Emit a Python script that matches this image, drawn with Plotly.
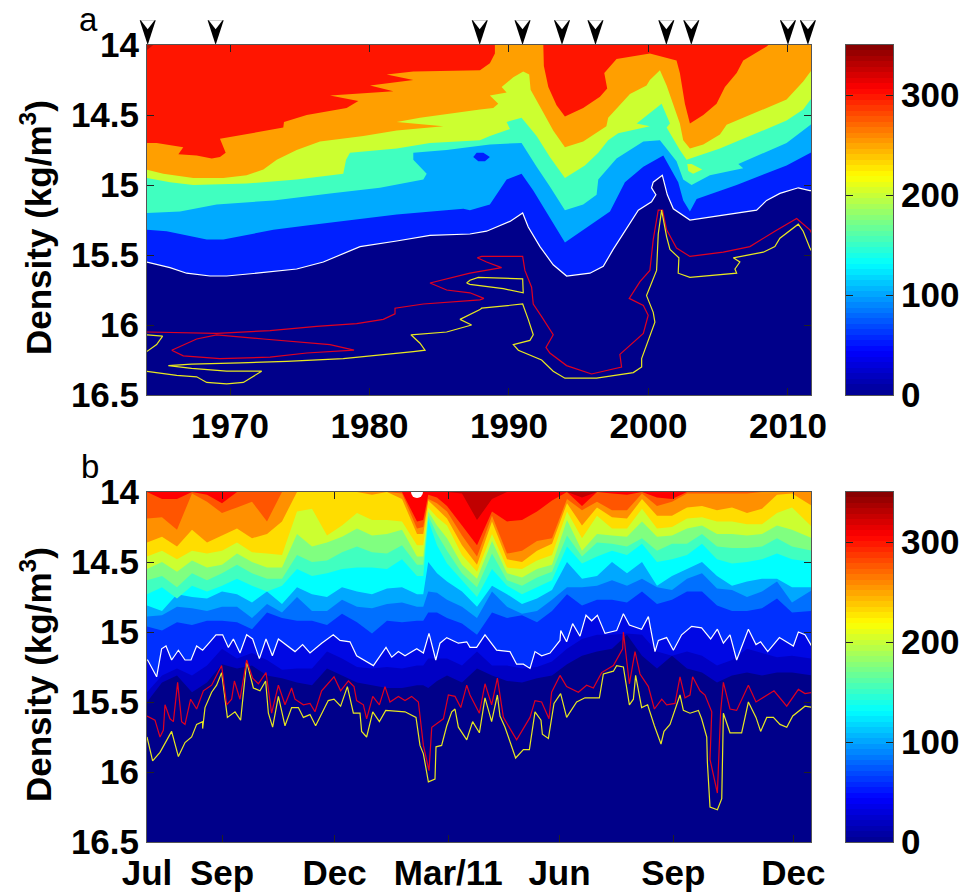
import numpy as np
import plotly.graph_objects as go

# ---------- Panel a: long-term record (year, density) ----------
A_RED_X = [1964.0,1964.74,1966.65,1966.30,1967.61,1968.69,1969.28,1969.69,1969.28,1973.82,1973.87,1975.50,1978.36,1979.20,1977.17,1981.71,1980.04,1983.14,1981.23,1983.14,1987.92,1988.63,1988.99,1988.99,1992.46,1992.50,1992.82,1993.41,1994.01,1995.32,1996.52,1997.04,1996.83,1997.71,2000.10,2002.01,2002.25,2002.61,2002.97,2003.93,2004.88,2005.48,2006.32,2006.79,2008.47,2008.59,2012]
A_RED_Y = [14.70,14.70,14.73,14.78,14.79,14.81,14.80,14.77,14.67,14.59,14.55,14.50,14.45,14.40,14.36,14.33,14.29,14.25,14.21,14.19,14.18,14.13,14.06,14.00,14.00,14.15,14.30,14.43,14.51,14.45,14.37,14.31,14.20,14.10,14.06,14.11,14.20,14.42,14.56,14.50,14.42,14.30,14.20,14.11,14.01,14.00,14.00]
A_ORANGE_X = [1964.0,1965.22,1967.37,1969.52,1971.19,1972.39,1973.35,1974.78,1976.45,1979.56,1981.95,1985.29,1981.95,1983.62,1987.92,1988.87,1989.23,1988.63,1989.83,1989.47,1990.31,1991.02,1991.45,1991.55,1992.34,1993.17,1994.01,1995.32,1996.98,1997.11,1998.67,1999.86,2000.10,2000.82,2001.30,2002.25,2002.49,2002.97,2003.93,2005.12,2005.60,2007.51,2009.90,2011.09,2011.62,2012]
A_ORANGE_Y = [14.89,14.92,14.95,14.95,14.93,14.89,14.82,14.75,14.69,14.65,14.61,14.58,14.55,14.52,14.46,14.45,14.42,14.36,14.34,14.30,14.23,14.19,14.21,14.32,14.46,14.61,14.73,14.69,14.58,14.52,14.35,14.29,14.25,14.18,14.29,14.56,14.68,14.74,14.71,14.64,14.57,14.49,14.39,14.26,14.19,14.15]
A_YG_X = [1964.0,1965.70,1967.37,1971.19,1974.78,1978.12,1978.32,1978.60,1981.95,1984.34,1987.92,1988.63,1990.07,1989.83,1990.90,1991.98,1992.93,1994.01,1995.44,1996.40,1997.11,1997.83,2000.10,1999.15,2000.94,2001.54,2001.30,2002.25,2002.73,2005.12,2007.51,2009.90,2011.09,2011.62,2012]
A_YG_Y = [14.95,14.98,15.00,14.99,14.96,14.92,14.82,14.77,14.74,14.70,14.68,14.65,14.60,14.55,14.52,14.65,14.80,14.95,14.86,14.77,14.68,14.63,14.58,14.56,14.42,14.56,14.59,14.75,14.82,14.74,14.64,14.54,14.46,14.39,14.35]
A_GREEN_X = [1964.0,1966.42,1969.04,1973.11,1977.17,1980.75,1983.86,1984.10,1983.14,1983.14,1985.53,1987.92,1988.63,1990.90,1991.98,1992.93,1994.01,1995.32,1996.28,1996.40,1997.71,1999.63,2000.82,2002.01,2002.49,2003.09,2004.40,2006.79,2006.44,2009.90,2011.62,2012]
A_GREEN_Y = [15.20,15.19,15.14,15.11,15.06,15.02,14.96,14.92,14.82,14.77,14.75,14.72,14.71,14.70,14.87,15.01,15.18,15.14,15.07,14.96,14.81,14.69,14.68,14.83,14.96,15.00,14.93,14.88,14.85,14.70,14.57,14.53]
A_LBLUE_X = [1964.0,1965.46,1968.33,1969.52,1973.11,1975.50,1981.95,1986.73,1987.2,1988.63,1989.83,1990.90,1991.74,1994.01,1997.24,1998.31,1999.63,2001.06,2002.13,2002.49,2002.97,2003.45,2006.32,2009.90,2011.62,2012]
A_LBLUE_Y = [15.32,15.33,15.39,15.39,15.32,15.29,15.21,15.17,15.18,15.14,14.96,14.92,15.04,15.41,15.19,14.98,14.87,14.79,14.98,15.11,15.19,15.10,15.00,14.86,14.77,14.75]
A_WHITE_X = [1964.0,1965.70,1966.89,1968.57,1969.76,1971.91,1974.78,1976.69,1979.32,1981.95,1984.34,1987.2,1988.39,1990.07,1990.98,1991.38,1992.22,1993.17,1994.13,1995.80,1996.76,1997.47,1999.27,2000.22,2000.53,2000.22,2000.34,2000.99,2001.35,2001.78,2002.97,2007.75,2008.47,2009.42,2010.74,2011.57,2012]
A_WHITE_Y = [15.55,15.59,15.63,15.65,15.65,15.63,15.60,15.55,15.44,15.40,15.36,15.35,15.33,15.26,15.20,15.30,15.44,15.57,15.65,15.63,15.58,15.46,15.18,15.12,15.07,15.02,14.98,14.93,15.07,15.17,15.25,15.18,15.11,15.06,15.02,15.04,15.04]
A_REDLINE_X = [1964.0,1969.04,1972.87,1976.21,1979.08,1980.99,1981.83,1981.83,1983.86,1987.92,1988.2,1987.2,1985.53,1984.34,1987.2,1989.47,1988.39,1987.73,1988.04,1990.98,1991.14,1991.62,1991.74,1992.34,1993.17,1992.65,1992.93,1994.13,1995.92,1998.07,1997.95,1999.63,1999.98,1999.63,1998.62,1999.39,2000.10,2000.34,2000.70,2001.01,2001.30,2002.01,2002.97,2005.36,2007.27,2009.06,2010.62,2011.57,2012]
A_REDLINE_Y = [16.05,16.06,16.04,16.01,15.99,15.96,15.92,15.88,15.85,15.82,15.81,15.77,15.75,15.70,15.63,15.59,15.55,15.52,15.51,15.51,15.61,15.73,15.85,15.94,16.07,16.16,16.20,16.29,16.35,16.30,16.21,16.06,15.93,15.86,15.81,15.69,15.61,15.39,15.18,15.18,15.32,15.45,15.51,15.48,15.44,15.33,15.24,15.32,15.40]
A_REDLOOP_X = [1965.82,1967.61,1969.04,1972.39,1977.17,1978.89,1975.50,1972.87,1969.28,1966.65,1965.82]
A_REDLOOP_Y = [16.18,16.10,16.07,16.10,16.14,16.18,16.20,16.23,16.24,16.22,16.18]
A_YEL1_X = [1964.03,1965.17,1964.74,1964.03]
A_YEL1_Y = [16.07,16.08,16.14,16.19]
A_YEL2_X = [1964.0,1966.18,1967.61,1968.33,1969.76,1970.96,1972.27,1969.76,1967.25,1965.58,1967.25,1970.72,1974.06,1978.12,1983.14,1983.98,1983.62,1982.97,1985.53,1987.32,1986.49,1987.92,1988.04,1990.98,1991.38,1991.74,1991.50,1990.31,1990.67,1992.34,1993.17,1994.01,1996.28,1998.91,1999.51,1999.51,2000.46,2000.34,1999.86,2000.58,2000.70,2000.94,2001.30,2001.54,2002.18,2002.13,2002.97,2006.32,2006.20,2006.55,2006.08,2008.23,2009.06,2009.42,2010.74,2011.09,2011.57,2012]
A_YEL2_Y = [16.33,16.36,16.37,16.41,16.42,16.41,16.33,16.33,16.31,16.29,16.28,16.27,16.26,16.24,16.19,16.18,16.13,16.07,16.05,16.00,15.96,15.89,15.88,15.85,15.96,16.07,16.11,16.14,16.18,16.25,16.33,16.38,16.38,16.34,16.30,16.24,15.98,15.91,15.79,15.61,15.35,15.18,15.37,15.46,15.52,15.63,15.66,15.63,15.60,15.55,15.52,15.48,15.44,15.38,15.28,15.33,15.45,15.53]
A_YEL3_X = [1986.96,1987.2,1987.8,1990.98,1991.02,1989.59,1987.2,1986.96]
A_YEL3_Y = [15.70,15.68,15.66,15.67,15.77,15.74,15.71,15.70]
A_BLUE_ISLAND_X = [1987.44,1987.68,1988.16,1988.63,1988.28,1987.80,1987.44]
A_BLUE_ISLAND_Y = [14.80,14.77,14.77,14.80,14.83,14.83,14.80]
A_YG_ISLAND_X = [2002.78,2003.09,2003.85,2003.2,2002.85,2002.78]
A_YG_ISLAND_Y = [14.85,14.85,14.89,14.92,14.90,14.85]
A_CORNER_X = [1964.0,1964.5,1964.0,1964.0]
A_CORNER_Y = [14.0,14.0,14.04,14.0]
ARROW_YEARS = [1964.1,1968.97,1987.9,1990.97,1993.8,1996.2,2001.28,2003.07,2010.0,2011.43]

# ---------- Panel b: 2010-2011 record (days since 1 Jul, density) ----------
DAYS = [0,12,24,36,48,60,72,84,96,108,120,132,144,156,168,180,192,204,216,221,225,232,240,252,264,276,288,300,312,324,336,348,360,372,384,396,408,420,432,444,456,468,480,492,504,516,532]
B_L325 = [14.00]*23+[14.01,14.20,14.05,14.00,14.00,14.00,14.00,14.00,14.04]+[14.00]*15
B_L300 = [14.00,14.05,14.05,14.00,14.02,14.08,14.00,14.00,14.00,14.00,14.00,14.00,14.00,14.00,14.00,14.00,14.00,14.00,14.21,14.20,14.02,14.04,14.10,14.24,14.38,14.14,14.21,14.20,14.14,14.06,14.00,14.10,14.00,14.01,14.02,14.00,14.04,14.05,14.00,14.00,14.00,14.00,14.00,14.00,14.00,14.00,14.00]
B_L275 = [14.19,14.18,14.27,14.01,14.07,14.15,14.11,14.07,14.21,14.00,14.00,14.00,14.00,14.00,14.00,14.00,14.00,14.01,14.26,14.25,14.05,14.08,14.14,14.31,14.46,14.17,14.44,14.42,14.35,14.33,14.05,14.13,14.07,14.13,14.13,14.01,14.10,14.07,14.01,14.01,14.01,14.01,14.01,14.00,14.00,14.00,14.00]
B_L250 = [14.36,14.32,14.39,14.27,14.36,14.31,14.26,14.33,14.30,14.21,14.00,14.00,14.00,14.00,14.00,14.02,14.00,14.05,14.30,14.30,14.06,14.12,14.19,14.38,14.52,14.21,14.48,14.50,14.42,14.37,14.08,14.24,14.11,14.18,14.19,14.05,14.17,14.17,14.11,14.10,14.13,14.11,14.15,14.12,14.02,14.01,14.10]
B_L225 = [14.46,14.42,14.48,14.42,14.44,14.42,14.36,14.43,14.44,14.45,14.14,14.12,14.31,14.24,14.15,14.20,14.20,14.21,14.38,14.38,14.11,14.18,14.24,14.45,14.57,14.30,14.54,14.55,14.49,14.45,14.14,14.33,14.17,14.26,14.26,14.12,14.26,14.25,14.19,14.18,14.21,14.21,14.23,14.23,14.15,14.11,14.25]
B_L200 = [14.55,14.50,14.57,14.49,14.54,14.52,14.44,14.50,14.54,14.54,14.30,14.39,14.36,14.32,14.26,14.31,14.30,14.27,14.46,14.46,14.14,14.24,14.33,14.52,14.62,14.35,14.58,14.61,14.55,14.52,14.20,14.42,14.30,14.31,14.32,14.21,14.32,14.31,14.26,14.24,14.30,14.30,14.31,14.30,14.24,14.27,14.33]
B_L175 = [14.63,14.60,14.68,14.58,14.63,14.58,14.52,14.58,14.62,14.62,14.45,14.50,14.49,14.43,14.39,14.43,14.44,14.38,14.52,14.52,14.17,14.30,14.42,14.58,14.68,14.44,14.63,14.67,14.61,14.57,14.31,14.46,14.36,14.37,14.39,14.33,14.42,14.37,14.37,14.30,14.39,14.40,14.40,14.39,14.33,14.39,14.42]
B_L150 = [14.73,14.68,14.76,14.67,14.71,14.67,14.62,14.67,14.71,14.67,14.55,14.60,14.58,14.55,14.54,14.54,14.55,14.48,14.60,14.60,14.20,14.38,14.51,14.63,14.75,14.55,14.67,14.73,14.68,14.63,14.39,14.51,14.46,14.42,14.45,14.37,14.50,14.48,14.45,14.37,14.48,14.51,14.50,14.48,14.44,14.48,14.50]
B_L125 = [14.81,14.85,14.73,14.75,14.76,14.71,14.73,14.79,14.71,14.80,14.68,14.73,14.75,14.68,14.71,14.73,14.69,14.68,14.73,14.73,14.50,14.58,14.64,14.71,14.82,14.67,14.73,14.80,14.76,14.70,14.50,14.62,14.60,14.50,14.58,14.50,14.67,14.60,14.55,14.50,14.60,14.67,14.64,14.62,14.62,14.68,14.68]
B_L100 = [14.89,14.88,14.82,14.83,14.85,14.82,14.82,14.90,14.80,14.86,14.75,14.85,14.85,14.77,14.82,14.83,14.80,14.79,14.82,14.82,14.71,14.72,14.77,14.82,14.90,14.71,14.82,14.87,14.85,14.77,14.68,14.68,14.67,14.63,14.67,14.62,14.68,14.70,14.62,14.58,14.69,14.70,14.75,14.71,14.64,14.79,14.70]
B_L75 = [14.96,14.99,14.93,14.95,14.92,14.92,14.93,14.98,14.86,14.90,14.92,14.92,14.95,14.87,14.93,15.01,14.92,14.93,14.92,14.92,14.86,14.86,14.90,14.94,15.02,14.86,14.90,14.88,14.93,14.85,14.73,14.81,14.77,14.77,14.79,14.71,14.80,14.77,14.71,14.71,14.81,14.85,14.85,14.83,14.76,14.86,14.85]
B_LA = [15.43,15.31,15.26,15.31,15.24,15.12,15.19,15.15,15.20,15.27,15.26,15.26,15.14,15.19,15.25,15.26,15.25,15.26,15.24,15.24,15.19,15.19,15.19,15.24,15.14,15.24,15.24,15.26,15.25,15.21,15.12,15.05,15.02,15.02,15.01,15.02,15.14,15.17,15.14,15.17,15.24,15.20,15.12,15.15,15.18,15.17,15.19]
B_LB = [15.50,15.36,15.31,15.43,15.36,15.23,15.26,15.24,15.31,15.33,15.36,15.38,15.26,15.31,15.36,15.38,15.40,15.40,15.38,15.38,15.40,15.35,15.31,15.36,15.26,15.31,15.35,15.36,15.33,15.31,15.23,15.17,15.14,15.12,15.02,15.17,15.26,15.17,15.26,15.29,15.36,15.31,15.29,15.31,15.29,15.29,15.31]
B_WHITE_X = [0,0.5,7.7,11.7,15.2,19.7,25.1,30.4,35.2,39.7,44.5,50.4,55.2,60.5,65.1,69.1,74.4,79.7,84.5,89.9,95.2,100.3,105.1,118.4,124.5,130.4,139.7,149,154.4,162.4,167.7,181.1,191.2,195.8,201.1,206.4,215.8,221.1,225.6,231,234.4,239.8,249.1,255.8,258.4,263.7,270.4,279.7,290.4,295.7,301.1,306.4,310.4,315.7,322.4,330.4,331,335.7,340.5,346.4,351.2,355.7,360.3,366.4,375.7,381.1,385.9,395.7,401.1,406.4,409.1,415.7,421.1,427.7,435.7,443.7,450.9,456.3,461.1,466.4,471.7,481.1,487.2,490.9,496.6,505.9,517.1,521.1,526.4,533]
B_WHITE_Y = [15.20,15.20,15.32,15.12,15.10,15.20,15.13,15.20,15.20,15.10,15.13,15.07,15.02,15.02,15.11,15.05,15.15,15.02,15.05,15.19,15.05,15.17,15.05,15.14,15.09,15.15,15.08,15.02,15.06,15.07,15.17,15.24,15.11,15.18,15.14,15.17,15.12,15.15,15.01,15.20,15.08,15.04,15.08,15.07,15.11,15.11,15.02,15.13,15.14,15.23,15.23,15.26,15.14,15.17,15.15,15.06,14.99,15.07,14.94,15.03,14.88,14.92,14.88,15.01,14.99,14.87,14.95,14.98,14.89,15.14,15.06,15.04,15.13,15.02,14.96,14.97,15.05,14.98,15.08,15.02,15.20,14.98,15.09,15.07,15.14,15.04,15.10,15.00,15.02,15.12]
B_RED_X = [0,6.4,10.4,13.1,14.4,18.4,21.1,24.5,27.7,30.4,34.9,39.7,45.1,51.7,59.7,63.7,67.7,69.9,74.4,79.7,84.5,89.1,95.2,99.7,105.1,110.4,115.7,118.4,125.1,130.4,134.4,139.7,149.6,154.9,161.1,165.6,167.7,173.1,175.7,180.6,185.9,190.4,194.4,201.1,206.4,211.7,217.1,221.1,225.6,227.8,237.1,241.1,246.4,251,255.8,258.4,265.9,270.4,275.7,280.3,285.1,295.7,306.4,310.4,315.7,321.6,323.7,330.4,335.7,345.1,351.7,357.1,363.7,373.1,380.5,381.1,385.9,390.4,394.4,401.1,405.9,411.8,415.7,422.4,426.4,430.4,434.4,436.5,442.4,446.4,451.8,450.4,456.3,458.9,461.1,466.4,471.7,481.1,487.2,501.6,511.8,521.1,526.4,533]
B_RED_Y = [15.60,15.63,15.75,15.70,15.52,15.62,15.64,15.36,15.64,15.66,15.48,15.55,15.42,15.38,15.24,15.52,15.48,15.35,15.48,15.20,15.33,15.37,15.29,15.58,15.38,15.52,15.40,15.48,15.52,15.51,15.57,15.42,15.32,15.42,15.35,15.39,15.49,15.52,15.62,15.46,15.52,15.39,15.50,15.46,15.49,15.46,15.50,15.81,15.99,15.68,15.62,15.45,15.46,15.54,15.38,15.45,15.58,15.37,15.52,15.33,15.61,15.77,15.61,15.49,15.50,15.62,15.43,15.31,15.39,15.43,15.38,15.40,15.29,15.24,15.12,15.00,15.37,15.14,15.30,15.39,15.55,15.48,15.52,15.51,15.32,15.47,15.45,15.32,15.42,15.45,15.57,15.91,16.15,15.57,15.36,15.55,15.56,15.38,15.50,15.42,15.53,15.41,15.44,15.43]
B_YEL_X = [0,4.5,10.4,19.7,25.1,30.4,35.7,39.7,44.5,44.5,46.4,51.7,55.7,59.7,64.3,70.4,74.9,79.7,85.1,90.4,94.9,97.1,100.5,105.1,110.4,115.7,121.1,125.1,130.4,134.9,145,149.6,154.9,160.3,165.1,170.4,171.7,175.7,180.6,185.9,191,206.4,215.2,218.4,221.1,225.1,230.4,231.2,235.7,239.8,243.8,246.4,249.1,255.8,260.5,265.9,270.4,275.7,280.3,282.4,286.4,294.9,301.1,305.9,310.4,315.2,316.3,321.1,325.6,330.9,335.7,343.7,350.4,361.9,365.1,373.1,375.7,381.1,385.9,389.1,390.9,395.7,400.5,405.9,411.2,413.6,418.4,426.4,429.1,434.4,441.1,443.7,447.8,448.3,450.4,456.3,459.8,461.1,466.4,475.7,481.1,487.2,490.9,495.8,501.1,506.4,511.8,516.6,526.4,533]
B_YEL_Y = [15.75,15.92,15.86,15.71,15.89,15.79,15.75,15.66,15.64,15.69,15.54,15.43,15.38,15.29,15.61,15.57,15.63,15.21,15.40,15.42,15.35,15.58,15.68,15.46,15.67,15.54,15.54,15.61,15.59,15.67,15.49,15.48,15.53,15.39,15.58,15.58,15.71,15.75,15.57,15.64,15.56,15.57,15.61,15.81,15.87,16.07,16.05,15.82,15.81,15.67,15.57,15.55,15.68,15.77,15.64,15.72,15.47,15.64,15.45,15.60,15.68,15.90,15.84,15.84,15.57,15.63,15.73,15.76,15.51,15.44,15.61,15.50,15.47,15.47,15.30,15.28,15.24,15.25,15.52,15.48,15.31,15.54,15.52,15.67,15.80,15.71,15.66,15.45,15.56,15.58,15.56,15.62,15.75,15.93,16.25,16.27,16.19,15.58,15.72,15.72,15.50,15.61,15.71,15.61,15.61,15.66,15.68,15.60,15.53,15.54]
MISSING_DAY = [216]
MISSING_DENS = [14.0]

# ---------- Axis ticks ----------
DENS_TICKS = [14,14.5,15,15.5,16,16.5]
DENS_LABELS = ["14","14.5","15","15.5","16","16.5"]
YEAR_TICKS = [1970,1980,1990,2000,2010]
DAY_TICKS = [0,60,150,241,330,421,517]
DAY_LABELS = ["Jul","Sep","Dec","Mar/11","Jun","Sep","Dec"]
CB_TICKS = [0,100,200,300]

JET = [[0,"#00008f"],[0.125,"#0000ff"],[0.375,"#00ffff"],[0.625,"#ffff00"],[0.875,"#ff0000"],[1,"#800000"]]
FONT = "Liberation Sans"
W, H = 966, 895
def xd(a, b): return [a/W, b/W]
def yd(top, bot): return [1-bot/H, 1-top/H]

fig = go.Figure()

def band(x, y, color, xa, ya, fill="tozeroy"):
    fig.add_trace(go.Scatter(x=x, y=y, mode="lines", fill=fill, fillcolor=color,
                             line=dict(width=0, color=color, simplify=False),
                             hoverinfo="skip", showlegend=False, xaxis=xa, yaxis=ya))
def line(x, y, color, xa, ya, w=1.2):
    fig.add_trace(go.Scatter(x=x, y=y, mode="lines", line=dict(width=w, color=color, simplify=False),
                             hoverinfo="skip", showlegend=False, xaxis=xa, yaxis=ya))

# Panel a bands
band(A_WHITE_X, A_WHITE_Y, "#0020ff", "x", "y")
band(A_LBLUE_X, A_LBLUE_Y, "#00aaff", "x", "y")
band(A_GREEN_X, A_GREEN_Y, "#40ffc0", "x", "y")
band(A_YG_X, A_YG_Y, "#ccff30", "x", "y")
band(A_ORANGE_X, A_ORANGE_Y, "#ff9f00", "x", "y")
band(A_RED_X, A_RED_Y, "#ff1500", "x", "y")
band(A_CORNER_X, A_CORNER_Y, "#c01000", "x", "y", "toself")
band(A_BLUE_ISLAND_X, A_BLUE_ISLAND_Y, "#0020ff", "x", "y", "toself")
band(A_YG_ISLAND_X, A_YG_ISLAND_Y, "#ccff30", "x", "y", "toself")
line(A_WHITE_X, A_WHITE_Y, "#ffffff", "x", "y")
line(A_REDLINE_X, A_REDLINE_Y, "#e00020", "x", "y")
line(A_REDLOOP_X, A_REDLOOP_Y, "#e00020", "x", "y")
line(A_YEL1_X, A_YEL1_Y, "#e8e820", "x", "y")
line(A_YEL2_X, A_YEL2_Y, "#e8e820", "x", "y")
line(A_YEL3_X, A_YEL3_Y, "#e8e820", "x", "y")

# Arrowheads above panel a: a black head with a white notch cut into its tail
fig.add_trace(go.Scatter(x=ARROW_YEARS, y=[14.0]*len(ARROW_YEARS), mode="markers", cliponaxis=False,
                         marker=dict(symbol="arrow", angle=180, size=26, color="black", line=dict(width=0)),
                         hoverinfo="skip", showlegend=False, xaxis="x", yaxis="y"))
fig.add_trace(go.Scatter(x=ARROW_YEARS, y=[14.0]*len(ARROW_YEARS), mode="markers", cliponaxis=False,
                         marker=dict(symbol="triangle-up", angle=180, standoff=21.7, size=12, color="white", line=dict(width=0)),
                         hoverinfo="skip", showlegend=False, xaxis="x", yaxis="y"))

# Panel b bands
band(DAYS, B_LB, "#0000c4", "x2", "y2")
band(DAYS, B_LA, "#0008e4", "x2", "y2")
band(B_WHITE_X, B_WHITE_Y, "#0030ff", "x2", "y2")
band(DAYS, B_L75, "#0070ff", "x2", "y2")
band(DAYS, B_L100, "#00a8ff", "x2", "y2")
band(DAYS, B_L125, "#00ffff", "x2", "y2")
band(DAYS, B_L150, "#40ffc0", "x2", "y2")
band(DAYS, B_L175, "#80ff80", "x2", "y2")
band(DAYS, B_L200, "#ccff30", "x2", "y2")
band(DAYS, B_L225, "#ffdd00", "x2", "y2")
band(DAYS, B_L250, "#ff9000", "x2", "y2")
band(DAYS, B_L275, "#ff5500", "x2", "y2")
band(DAYS, B_L300, "#ff0000", "x2", "y2")
band(DAYS, B_L325, "#c00000", "x2", "y2")
line(B_WHITE_X, B_WHITE_Y, "#ffffff", "x2", "y2")
line(B_YEL_X, B_YEL_Y, "#e8e820", "x2", "y2")
line(B_RED_X, B_RED_Y, "#e00020", "x2", "y2")
fig.add_trace(go.Scatter(x=MISSING_DAY, y=MISSING_DENS, mode="markers", marker=dict(size=12, color="white", line=dict(width=0)),
                         hoverinfo="skip", showlegend=False, xaxis="x2", yaxis="y2"))

# Colour bars
levels = np.linspace(0, 350, 65)
mids = (levels[:-1] + levels[1:]) / 2
for xa, ya in (("x3", "y3"), ("x4", "y4")):
    fig.add_trace(go.Heatmap(x=[0, 1], y=levels, z=[[m] for m in mids], zmin=0, zmax=350, colorscale=JET,
                             showscale=False, hoverinfo="skip", xaxis=xa, yaxis=ya))

tf = dict(family=FONT, size=35, color="black", weight=700)
common = dict(showline=True, linecolor="#555555", linewidth=1, mirror="allticks", ticks="inside", automargin=False,
              ticklen=7, tickwidth=1, tickcolor="#222222", showgrid=False, zeroline=False, tickfont=tf)
ycommon = dict(common, range=[16.5, 14], tickmode="array", tickvals=DENS_TICKS, ticktext=DENS_LABELS)
plain_x = dict(range=[0, 1], showticklabels=False, ticks="", showline=True, linecolor="#555555", mirror=True,
               showgrid=False, zeroline=False, automargin=False, domain=xd(846, 893))
def note(text, x, y, font, angle=0):
    return dict(text=text, xref="paper", yref="paper", x=x/W, y=1-y/H, showarrow=False, font=font,
                xanchor="center", yanchor="middle", textangle=angle)
plain = dict(family=FONT, size=33, color="black")
fig.update_layout(
    width=W, height=H, margin=dict(l=0, r=0, t=0, b=0, autoexpand=False), paper_bgcolor="white", plot_bgcolor="#00008a",
    showlegend=False,
    xaxis=dict(common, domain=xd(147, 811), range=[1964.05, 2011.65], tickmode="array", tickvals=YEAR_TICKS, anchor="y"),
    yaxis=dict(ycommon, domain=yd(45, 395), anchor="x"),
    xaxis2=dict(common, domain=xd(147, 811), range=[0, 531.2], tickmode="array", tickvals=DAY_TICKS, ticktext=DAY_LABELS, anchor="y2"),
    yaxis2=dict(ycommon, domain=yd(492, 842), anchor="x2"),
    xaxis3=dict(plain_x, anchor="y3"),
    yaxis3=dict(common, domain=yd(45, 395), range=[0, 350], side="right", tickvals=CB_TICKS, anchor="x3"),
    xaxis4=dict(plain_x, anchor="y4"),
    yaxis4=dict(common, domain=yd(492, 842), range=[0, 350], side="right", tickvals=CB_TICKS, anchor="x4"),
    annotations=[
        note("a", 88, 20, plain),
        note("b", 90, 466, plain),
        note("Density (kg/m<sup>3</sup>)", 36, 228, tf, -90),
        note("Density (kg/m<sup>3</sup>)", 36, 675, tf, -90),
    ],
)
fig.write_html("out.html", post_script="document.body.style.margin='0';", config=dict(displayModeBar=False))
